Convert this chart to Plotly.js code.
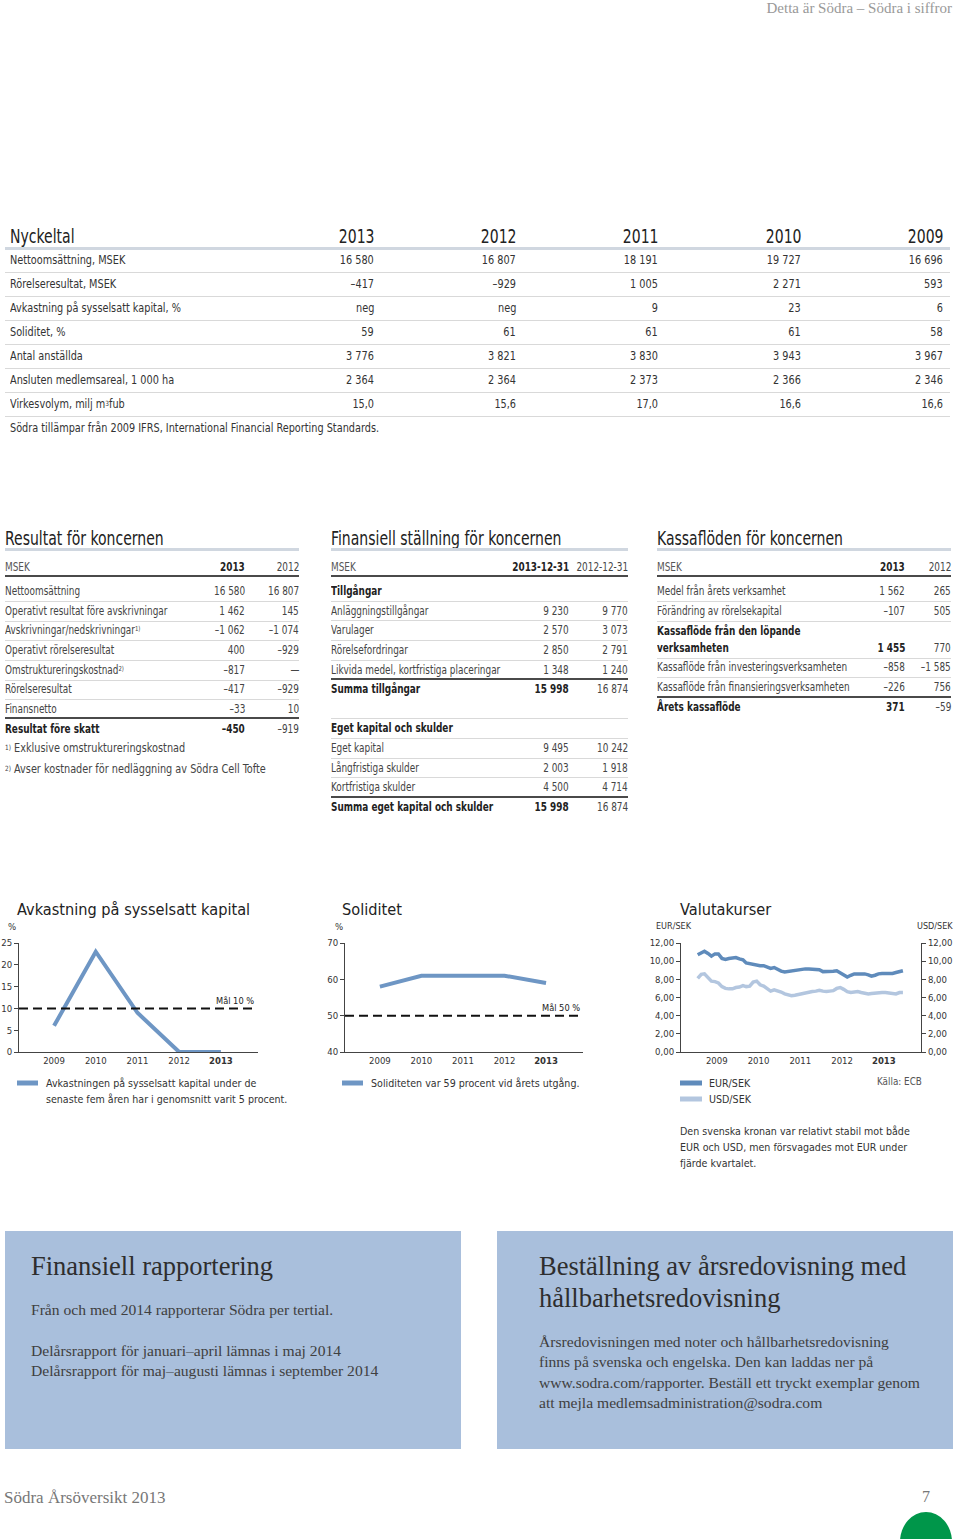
<!DOCTYPE html>
<html><head><meta charset="utf-8">
<script src="https://cdn.plot.ly/plotly-3.0.1.min.js"></script>
<style>
body{margin:0;width:960px;height:1539px;position:relative;background:#fff;overflow:hidden;font-family:"Liberation Sans Narrow","DejaVu Sans Condensed","Arial Narrow",sans-serif;color:#333}
.t{position:absolute;white-space:nowrap;}
.ln{position:absolute;}
sup{font-size:0.6em;vertical-align:top;position:relative;top:-1px}
</style></head><body>
<div id="page"></div>
<div id="charts" style="position:absolute;left:0;top:890px;width:960px;height:300px"></div>
<script>
// ---------------- DATA ----------------
const nyckelYears = ['2013','2012','2011','2010','2009'];
const nyckelLabels = ['Nettoomsättning, MSEK','Rörelseresultat, MSEK','Avkastning på sysselsatt kapital, %','Soliditet, %','Antal anställda','Ansluten medlemsareal, 1 000 ha','Virkesvolym, milj m<sup>3</sup>fub'];
const nyckel2013 = ['16 580','–417','neg','59','3 776','2 364','15,0'];
const nyckel2012 = ['16 807','–929','neg','61','3 821','2 364','15,6'];
const nyckel2011 = ['18 191','1 005','9','61','3 830','2 373','17,0'];
const nyckel2010 = ['19 727','2 271','23','61','3 943','2 366','16,6'];
const nyckel2009 = ['16 696','593','6','58','3 967','2 346','16,6'];

const resLabels = ['Nettoomsättning','Operativt resultat före avskrivningar','Avskrivningar/nedskrivningar<sup>1)</sup>','Operativt rörelseresultat','Omstruktureringskostnad<sup>2)</sup>','Rörelseresultat','Finansnetto','Resultat före skatt'];
const res2013 = ['16 580','1 462','–1 062','400','–817','–417','–33','–450'];
const res2012 = ['16 807','145','–1 074','–929','—','–929','10','–919'];

const finLabels = ['Tillgångar','Anläggningstillgångar','Varulager','Rörelsefordringar','Likvida medel, kortfristiga placeringar','Summa tillgångar','Eget kapital och skulder','Eget kapital','Långfristiga skulder','Kortfristiga skulder','Summa eget kapital och skulder'];
const fin2013 = ['','9 230','2 570','2 850','1 348','15 998','','9 495','2 003','4 500','15 998'];
const fin2012 = ['','9 770','3 073','2 791','1 240','16 874','','10 242','1 918','4 714','16 874'];

const kasLabels = ['Medel från årets verksamhet','Förändring av rörelsekapital','Kassaflöde från den löpande<br>verksamheten','Kassaflöde från investeringsverksamheten','Kassaflöde från finansieringsverksamheten','Årets kassaflöde'];
const kas2013 = ['1 562','–107','1 455','–858','–226','371'];
const kas2012 = ['265','505','770','–1 585','756','–59'];

const chartYears = [2009, 2010, 2011, 2012, 2013];
const yearTickText = ['2009','2010','2011','2012','<b>2013</b>'];
const avkastning = [6, 23, 9, 0, 0];
const soliditet = [58, 61, 61, 61, 59];

const months = ['2009-01-15','2009-02-15','2009-03-15','2009-04-15','2009-05-15','2009-06-15','2009-07-15','2009-08-15','2009-09-15','2009-10-15','2009-11-15','2009-12-15',
'2010-01-15','2010-02-15','2010-03-15','2010-04-15','2010-05-15','2010-06-15','2010-07-15','2010-08-15','2010-09-15','2010-10-15','2010-11-15','2010-12-15',
'2011-01-15','2011-02-15','2011-03-15','2011-04-15','2011-05-15','2011-06-15','2011-07-15','2011-08-15','2011-09-15','2011-10-15','2011-11-15','2011-12-15',
'2012-01-15','2012-02-15','2012-03-15','2012-04-15','2012-05-15','2012-06-15','2012-07-15','2012-08-15','2012-09-15','2012-10-15','2012-11-15','2012-12-15',
'2013-01-15','2013-02-15','2013-03-15','2013-04-15','2013-05-15','2013-06-15','2013-07-15','2013-08-15','2013-09-15','2013-10-15','2013-11-15','2013-12-15'];
const eurSek = [10.7,10.95,11.1,10.85,10.55,10.8,10.8,10.3,10.2,10.3,10.35,10.4,
10.25,10.15,9.8,9.7,9.65,9.55,9.5,9.5,9.3,9.2,9.3,9.05,
8.9,8.8,8.85,8.95,8.95,9.1,9.1,9.15,9.15,9.1,9.1,9.05,
8.85,8.85,8.85,8.9,8.95,8.75,8.55,8.25,8.45,8.6,8.6,8.6,
8.6,8.5,8.35,8.45,8.6,8.65,8.65,8.7,8.65,8.75,8.85,8.95];
const usdSek = [8.1,8.55,8.6,8.2,7.8,7.75,7.6,7.2,7.0,6.95,6.95,7.1,
7.15,7.3,7.2,7.25,7.7,7.8,7.4,7.25,6.95,6.7,6.85,6.75,
6.6,6.4,6.3,6.2,6.25,6.35,6.4,6.45,6.6,6.65,6.7,6.8,
6.7,6.65,6.7,6.75,7.0,7.1,6.9,6.65,6.55,6.6,6.65,6.55,
6.45,6.4,6.45,6.5,6.55,6.55,6.55,6.5,6.45,6.4,6.55,6.55];
const valTicks = ['2009-07-01','2010-07-01','2011-07-01','2012-07-01','2013-07-01'];

// ---------------- PAGE TEXT HELPERS ----------------
const page = document.getElementById('page');
function txt(x, y, s, o) {
  o = o || {};
  const size = o.size || 11.5, h = Math.round(size * 1.25);
  const d = document.createElement('div');
  d.className = 't';
  d.innerHTML = s;
  d.style.fontSize = size + 'px';
  d.style.lineHeight = h + 'px';
  d.style.top = (y - h / 2) + 'px';
  const right = o.align === 'right';
  if (right) { d.style.right = (960 - x) + 'px'; d.style.textAlign = 'right'; }
  else d.style.left = x + 'px';
  if (o.sx) { d.style.transform = 'scaleX(' + o.sx + ')'; d.style.transformOrigin = right ? 'right center' : 'left center'; }
  d.style.color = o.color || '#333';
  if (o.bold) d.style.fontWeight = 'bold';
  if (o.family) d.style.fontFamily = o.family;
  page.appendChild(d);
}
function line(x0, x1, y, th, col) {
  const d = document.createElement('div');
  d.className = 'ln';
  d.style.left = x0 + 'px'; d.style.width = (x1 - x0) + 'px';
  d.style.top = (y - th / 2) + 'px'; d.style.height = th + 'px';
  d.style.background = col;
  page.appendChild(d);
}
const SERIF = '"Liberation Serif","DejaVu Serif",serif';
const LIGHT = '#d9d9d9', HEAD = '#d0d7e0', DARK = '#4a4a4a';
const TS = {size: 19, sx: 0.82, color: '#222'};
const NB = {size: 12, sx: 0.9};
const SB = {size: 11.5, sx: 0.86, color: '#444'};
const o = (base, extra) => Object.assign({}, base, extra || {});

// header
txt(952, 8, 'Detta är Södra – Södra i siffror', {size: 15, color: '#999', family: SERIF, align: 'right'});

// Nyckeltal
txt(10, 236, 'Nyckeltal', TS);
const nyCols = [374, 516, 658, 801, 943];
const nyVals = [nyckel2013, nyckel2012, nyckel2011, nyckel2010, nyckel2009];
nyckelYears.forEach((yr, j) => txt(nyCols[j], 236, yr, o(TS, {align: 'right'})));
line(5, 950, 248, 3, HEAD);
nyckelLabels.forEach((lab, i) => {
  const y = 260 + 24 * i;
  txt(10, y, lab, NB);
  nyVals.forEach((col, j) => txt(nyCols[j], y, col[i], o(NB, {align: 'right'})));
  line(5, 950, y + 12, 1, LIGHT);
});
txt(10, 428, 'Södra tillämpar från 2009 IFRS, International Financial Reporting Standards.', NB);

function section(x0, x1, title, c1, c2, h1, h2) {
  txt(x0, 538, title, TS);
  line(x0, x1, 549, 3, HEAD);
  txt(x0, 567, 'MSEK', o(SB, {color: '#555'}));
  txt(c1, 567, h1, o(SB, {bold: true, color: '#222', align: 'right'}));
  txt(c2, 567, h2, o(SB, {align: 'right'}));
  line(x0, x1, 576, 1.5, DARK);
}
// Resultat
section(5, 299, 'Resultat för koncernen', 245, 299, '2013', '2012');
const resY = [591, 611, 630, 650, 670, 689, 709, 729];
resLabels.forEach((lab, i) => {
  const b = i === resLabels.length - 1;
  txt(5, resY[i], lab, o(SB, {bold: b, color: b ? '#222' : '#444'}));
  txt(245, resY[i], res2013[i], o(SB, {bold: b, color: b ? '#222' : '#444', align: 'right'}));
  txt(299, resY[i], res2012[i], o(SB, {align: 'right'}));
  if (i < 6) line(5, 299, resY[i] + 10, 1, LIGHT);
});
line(5, 299, 718, 1.5, DARK);
txt(5, 748, '<sup>1)</sup> Exklusive omstruktureringskostnad', {size: 12, sx: 0.9, color: '#444'});
txt(5, 769, '<sup>2)</sup> Avser kostnader för nedläggning av Södra Cell Tofte', {size: 12, sx: 0.9, color: '#444'});

// Finansiell ställning
section(331, 628, 'Finansiell ställning för koncernen', 569, 628, '2013-12-31', '2012-12-31');
const finY = [591, 611, 630, 650, 670, 689, 728, 748, 768, 787, 807];
const finBold = [true, false, false, false, false, true, true, false, false, false, true];
finLabels.forEach((lab, i) => {
  const b = finBold[i];
  txt(331, finY[i], lab, o(SB, {bold: b, color: b ? '#222' : '#444'}));
  txt(569, finY[i], fin2013[i], o(SB, {bold: b, color: b ? '#222' : '#444', align: 'right'}));
  txt(628, finY[i], fin2012[i], o(SB, {align: 'right'}));
});
[601, 620, 640, 660, 718, 738, 758, 777].forEach(y => line(331, 628, y, 1, LIGHT));
line(331, 628, 679, 1.5, DARK);
line(331, 628, 797, 1.5, DARK);

// Kassaflöden
section(657, 951, 'Kassaflöden för koncernen', 905, 951, '2013', '2012');
const kasY = [591, 611, 648, 667, 687, 707];
const kasBold = [false, false, true, false, false, true];
kasLabels.forEach((lab, i) => {
  const b = kasBold[i];
  if (i === 2) {
    const parts = lab.split('<br>');
    txt(657, 631, parts[0], o(SB, {bold: true, color: '#222'}));
    txt(657, 648, parts[1], o(SB, {bold: true, color: '#222'}));
  } else txt(657, kasY[i], lab, o(SB, {bold: b, color: b ? '#222' : '#444'}));
  txt(905, kasY[i], kas2013[i], o(SB, {bold: b, color: b ? '#222' : '#444', align: 'right'}));
  txt(951, kasY[i], kas2012[i], o(SB, {align: 'right'}));
});
[601, 621, 658, 677].forEach(y => line(657, 951, y, 1, LIGHT));
line(657, 951, 697, 1.5, DARK);

// Blue boxes
function box(x0, x1) {
  const d = document.createElement('div');
  d.style.cssText = `position:absolute;left:${x0}px;top:1231px;width:${x1 - x0}px;height:218px;background:#a9bfdc`;
  page.appendChild(d);
}
box(5, 461); box(497, 953);
const BT = {size: 26.5, color: '#2e2e2e', family: SERIF};
const BP = {size: 15.6, color: '#404040', family: SERIF};
txt(31, 1266, 'Finansiell rapportering', BT);
txt(31, 1310, 'Från och med 2014 rapporterar Södra per tertial.', BP);
txt(31, 1351, 'Delårsrapport för januari–april lämnas i maj 2014', BP);
txt(31, 1371, 'Delårsrapport för maj–augusti lämnas i september 2014', BP);
txt(539, 1266, 'Beställning av årsredovisning med', BT);
txt(539, 1298, 'hållbarhetsredovisning', BT);
['Årsredovisningen med noter och hållbarhetsredovisning', 'finns på svenska och engelska. Den kan laddas ner på',
 'www.sodra.com/rapporter. Beställ ett tryckt exemplar genom', 'att mejla medlemsadministration@sodra.com']
 .forEach((s, i) => txt(539, 1342 + 20.4 * i, s, BP));

// Footer
txt(4, 1497, 'Södra Årsöversikt 2013', {size: 17, color: '#777', family: SERIF});
txt(930, 1497, '7', {size: 16, color: '#777', family: SERIF, align: 'right'});
const g = document.createElement('div');
g.style.cssText = 'position:absolute;left:900px;top:1512px;width:52px;height:60px;border-radius:50%;background:#00964a';
page.appendChild(g);

// ---------------- CHARTS ----------------
const TOP = 890, H = 300, W = 960;
const X = px => px / W;
const Y = py => (TOP + H - py) / H;
const FONT = '"Liberation Sans Narrow","DejaVu Sans Condensed","Arial Narrow",sans-serif';
const BLUE = '#6e96c4', EUR = '#5f8bbb', USD = '#b3c6df';

function ann(px, py, text, op) {
  op = op || {};
  return {xref: 'paper', yref: 'paper', x: X(px), y: Y(py), text: text, showarrow: false,
    xanchor: op.xanchor || 'left', yanchor: op.yanchor || 'middle', align: op.align || 'left',
    font: {family: FONT, size: op.size || 10.6, color: op.color || '#333'}};
}
function seg(x0, x1, y, col, w) {
  return {type: 'line', xref: 'paper', yref: 'paper', x0: X(x0), x1: X(x1), y0: Y(y), y1: Y(y),
    line: {color: col, width: w}};
}
const axBase = {showline: true, linecolor: '#444', linewidth: 1, showgrid: false, zeroline: false,
  tickfont: {family: FONT, size: 9.5, color: '#333'}, fixedrange: true};
const yDom = [Y(1052), Y(943)];

const traces = [
  {x: chartYears, y: avkastning, xaxis: 'x', yaxis: 'y', mode: 'lines', line: {color: BLUE, width: 4}, cliponaxis: false, hoverinfo: 'skip'},
  {x: chartYears, y: soliditet, xaxis: 'x2', yaxis: 'y2', mode: 'lines', line: {color: BLUE, width: 4}, cliponaxis: false, hoverinfo: 'skip'},
  {x: months, y: eurSek, xaxis: 'x3', yaxis: 'y3', mode: 'lines', line: {color: EUR, width: 3.5}, hoverinfo: 'skip'},
  {x: months, y: usdSek, xaxis: 'x3', yaxis: 'y4', mode: 'lines', line: {color: USD, width: 3.5}, hoverinfo: 'skip'}
];

const layout = {
  width: W, height: H, margin: {l: 0, r: 0, t: 0, b: 0},
  paper_bgcolor: 'rgba(0,0,0,0)', plot_bgcolor: 'rgba(0,0,0,0)',
  showlegend: false, separators: ', ',
  font: {family: FONT},
  xaxis: Object.assign({}, axBase, {domain: [X(19), X(258)], range: [2008.16, 2013.89], anchor: 'y',
    tickvals: chartYears, ticktext: yearTickText, ticks: ''}),
  yaxis: Object.assign({}, axBase, {domain: yDom, range: [0, 25], dtick: 5, anchor: 'x', ticks: 'outside', ticklen: 4, tickcolor: '#444'}),
  xaxis2: Object.assign({}, axBase, {domain: [X(345), X(583)], range: [2008.16, 2013.89], anchor: 'y2',
    tickvals: chartYears, ticktext: yearTickText, ticks: ''}),
  yaxis2: Object.assign({}, axBase, {domain: yDom, range: [40, 70], dtick: 10, anchor: 'x2', ticks: 'outside', ticklen: 4, tickcolor: '#444'}),
  xaxis3: Object.assign({}, axBase, {type: 'date', domain: [X(681), X(921)], range: ['2008-08-22', '2014-05-22'], anchor: 'y3',
    tickvals: valTicks, ticktext: yearTickText, ticks: ''}),
  yaxis3: Object.assign({}, axBase, {domain: yDom, range: [0, 12], dtick: 2, tickformat: '.2f', anchor: 'x3', ticks: 'outside', ticklen: 4, tickcolor: '#444'}),
  yaxis4: Object.assign({}, axBase, {domain: yDom, range: [0, 12], dtick: 2, tickformat: '.2f', anchor: 'x3', overlaying: 'y3', side: 'right', ticks: 'outside', ticklen: 4, tickcolor: '#444'}),
  shapes: [
    {type: 'line', xref: 'paper', yref: 'y', x0: X(19), x1: X(255), y0: 10, y1: 10, line: {color: '#111', width: 2, dash: '9px,5px'}},
    {type: 'line', xref: 'paper', yref: 'y2', x0: X(345), x1: X(580), y0: 50, y1: 50, line: {color: '#111', width: 2, dash: '9px,5px'}},
    seg(17, 38, 1083, BLUE, 5),
    seg(342, 363, 1083, BLUE, 5),
    seg(680, 702, 1083, EUR, 5),
    seg(680, 702, 1099, USD, 5)
  ],
  annotations: [
    ann(15, 910, 'Avkastning på sysselsatt kapital', {size: 16.2, color: '#222'}),
    ann(6, 926, '%', {size: 9.5}),
    ann(256, 1000, 'Mål 10 %', {size: 9.2, xanchor: 'right', color: '#222'}),
    ann(44, 1083, 'Avkastningen på sysselsatt kapital under de'),
    ann(44, 1099, 'senaste fem åren har i genomsnitt varit 5 procent.'),
    ann(340, 910, 'Soliditet', {size: 16.2, color: '#222'}),
    ann(333, 926, '%', {size: 9.5}),
    ann(582, 1007, 'Mål 50 %', {size: 9.2, xanchor: 'right', color: '#222'}),
    ann(369, 1083, 'Soliditeten var 59 procent vid årets utgång.'),
    ann(678, 910, 'Valutakurser', {size: 16.2, color: '#222'}),
    ann(654, 926, 'EUR/SEK', {size: 9}),
    ann(955, 926, 'USD/SEK', {size: 9, xanchor: 'right'}),
    ann(707, 1083, 'EUR/SEK'),
    ann(707, 1099, 'USD/SEK'),
    ann(875, 1081, 'Källa: ECB', {size: 9.8, color: '#555'}),
    ann(678, 1131, 'Den svenska kronan var relativt stabil mot både'),
    ann(678, 1147, 'EUR och USD, men försvagades mot EUR under'),
    ann(678, 1163, 'fjärde kvartalet.')
  ]
};
Plotly.newPlot('charts', traces, layout, {displayModeBar: false, staticPlot: true});
</script>
</body></html>
